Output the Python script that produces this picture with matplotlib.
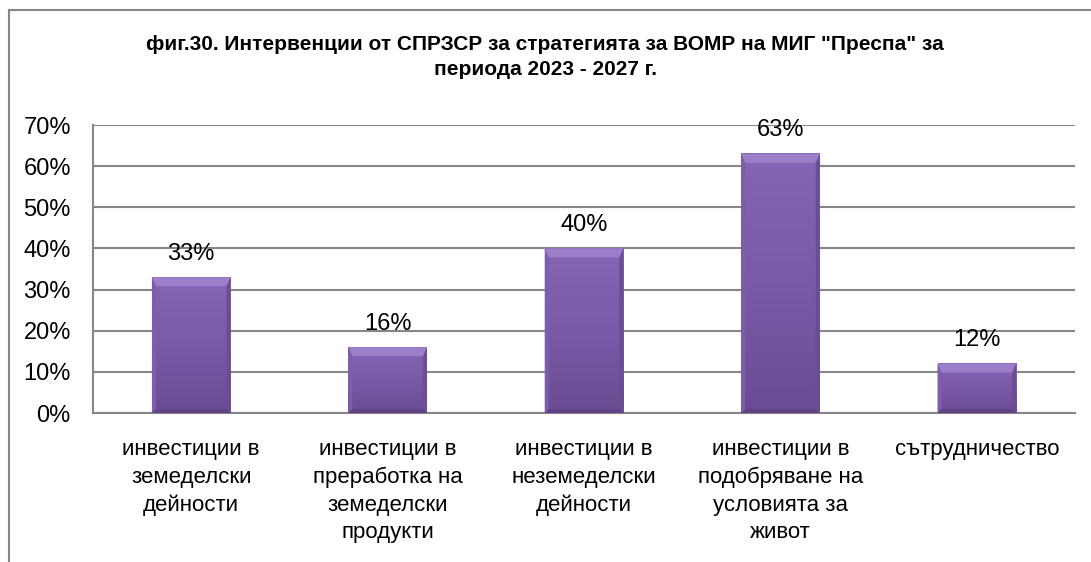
import matplotlib
matplotlib.use("Agg")
import matplotlib.pyplot as plt
from matplotlib.patches import Polygon
from matplotlib.lines import Line2D
from matplotlib.colors import LinearSegmentedColormap
import numpy as np

plt.rcParams['font.family'] = ['Liberation Sans', 'DejaVu Sans']

title = 'фиг.30. Интервенции от СПРЗСР за стратегията за ВОМР на МИГ "Преспа" за\nпериода 2023 - 2027 г.'
categories = ['инвестиции в\nземеделски\nдейности',
              'инвестиции в\nпреработка на\nземеделски\nпродукти',
              'инвестиции в\nнеземеделски\nдейности',
              'инвестиции в\nподобряване на\nусловията за\nживот',
              'сътрудничество']
values = [0.33, 0.16, 0.40, 0.63, 0.12]
yticks = [0, 0.1, 0.2, 0.3, 0.4, 0.5, 0.6, 0.7]
ytick_labels = ['0%', '10%', '20%', '30%', '40%', '50%', '60%', '70%']

W, H = 1091, 562
fig = plt.figure(figsize=(W / 100, H / 100), dpi=100)
ax = fig.add_axes([93 / W, 1 - 413 / H, (1075 - 93) / W, (413 - 125) / H])

grid_c = '#868686'
x = list(range(len(values)))
bw = 0.40
bars = ax.bar(x, values, width=bw, color='#7B5BA6', edgecolor='none', zorder=3)

ax.set_xlim(-0.5, len(values) - 0.5)
ax.set_ylim(0, 0.7)

face_cmap = LinearSegmentedColormap.from_list('face', ['#6A4B93', '#7A5AA7', '#8665B4'])
grad = np.linspace(0, 1, 256).reshape(-1, 1)

fig.canvas.draw()
inv = ax.transData.inverted()
for b in bars:
    x0, y0 = b.get_x(), b.get_y()
    x1, y1 = x0 + b.get_width(), y0 + b.get_height()
    (px0, py0) = ax.transData.transform((x0, y0))
    (px1, py1) = ax.transData.transform((x1, y1))
    bt, bb, bs = 9, 4, 4
    o = [inv.transform(p) for p in [(px0, py0), (px1, py0), (px1, py1), (px0, py1)]]
    i = [inv.transform(p) for p in [(px0 + bs, py0 + bb), (px1 - bs, py0 + bb),
                                    (px1 - bs, py1 - bt), (px0 + bs, py1 - bt)]]
    # face gradient
    ax.imshow(grad, cmap=face_cmap, origin='lower', aspect='auto',
              extent=(x0, x1, y0, y1), zorder=3.5, interpolation='bilinear')
    ax.add_patch(Polygon([o[0], o[1], i[1], i[0]], closed=True, color='#5E4386', lw=0, zorder=4))
    ax.add_patch(Polygon([o[1], o[2], i[2], i[1]], closed=True, color='#6A4D93', lw=0, zorder=4))
    ax.add_patch(Polygon([o[2], o[3], i[3], i[2]], closed=True, color='#9C7EC9', lw=0, zorder=4))
    ax.add_patch(Polygon([o[3], o[0], i[0], i[3]], closed=True, color='#7E5DAB', lw=0, zorder=4))

for xi, v in zip(x, values):
    ax.annotate(f'{round(v * 100):d}%', (xi, v), xytext=(0, 9), textcoords='offset points',
                ha='center', va='bottom', fontsize=17, color='#000000', zorder=5)

ax.set_xlim(-0.5, len(values) - 0.5)
ax.set_ylim(0, 0.7)
ax.set_yticks(yticks)
ax.set_yticklabels(ytick_labels, fontsize=17)
ax.set_xticks(x)
ax.set_xticklabels(categories, fontsize=16, linespacing=1.4, va='top')
ax.tick_params(axis='x', length=0, pad=19)
ax.tick_params(axis='y', length=0, pad=16)
ax.yaxis.grid(True, color=grid_c, lw=1.5, zorder=0)
ax.set_axisbelow(True)
for s in ['top', 'right']:
    ax.spines[s].set_visible(False)
for s in ['left', 'bottom']:
    ax.spines[s].set_color(grid_c)
    ax.spines[s].set_linewidth(1.5)

fig.text(545 / W, 1 - 57 / H, title, ha='center', va='center', fontsize=15,
         fontweight='bold', linespacing=1.4)

# outer chart frame (left and top edges visible)
fig.add_artist(Line2D([9 / W, 9 / W], [0, 1 - 10 / H], color=grid_c, lw=1.5))
fig.add_artist(Line2D([9 / W, 1], [1 - 10 / H, 1 - 10 / H], color=grid_c, lw=1.5))

fig.savefig('out.png', dpi=100)
